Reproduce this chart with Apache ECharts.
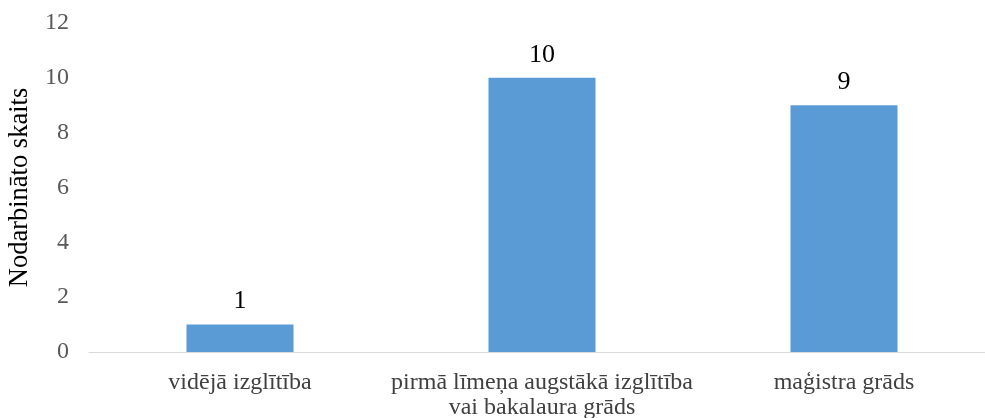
<!DOCTYPE html>
<html lang="lv">
<head>
  <meta charset="UTF-8">
  <script src="https://cdn.jsdelivr.net/npm/echarts@6/dist/echarts.min.js"></script>
  <title>Nodarbināto skaits pēc izglītības</title>
  <style>
    html, body { margin: 0; padding: 0; background: #fff; }
    #main { width: 985px; height: 418px; }
  </style>
</head>
<body>
  <div id="main"></div>
  <script>
    // data
    var categories = ['vidējā izglītība', 'pirmā līmeņa augstākā izglītība\nvai bakalaura grāds', 'maģistra grāds'];
    var values = [1, 10, 9];
    var yTicks = [0, 2, 4, 6, 8, 10, 12];

    var font = '"Liberation Serif", "Times New Roman", serif';
    var myChart = echarts.init(document.getElementById('main'));

    myChart.setOption({
      animation: false,
      // plot runs a bit past the right edge, like the original
      grid: { left: 89, width: 906, top: 23, bottom: 66, outerBoundsMode: 'none', containLabel: false },
      xAxis: {
        type: 'category',
        data: categories,
        axisLine: { lineStyle: { color: '#d9d9d9', width: 1 } },
        axisTick: { show: false },
        axisLabel: {
          color: '#404040', fontFamily: font, fontSize: 24,
          lineHeight: 25, margin: 18, interval: 0
        }
      },
      yAxis: {
        type: 'value',
        min: yTicks[0],
        max: yTicks[yTicks.length - 1],
        interval: 2,
        name: 'Nodarbināto skaits',
        nameLocation: 'middle',
        nameGap: 55,
        nameTextStyle: { color: '#000', fontFamily: font, fontSize: 26.5 },
        axisLine: { show: false },
        axisTick: { show: false },
        splitLine: { show: false },
        axisLabel: { color: '#595959', fontFamily: font, fontSize: 24, margin: 20 }
      },
      series: [{
        type: 'bar',
        data: values,
        barWidth: 107,
        itemStyle: { color: '#5b9bd5' },
        label: {
          show: true, position: 'top', distance: 10,
          color: '#000', fontFamily: font, fontSize: 26
        }
      }]
    });
  </script>
</body>
</html>
